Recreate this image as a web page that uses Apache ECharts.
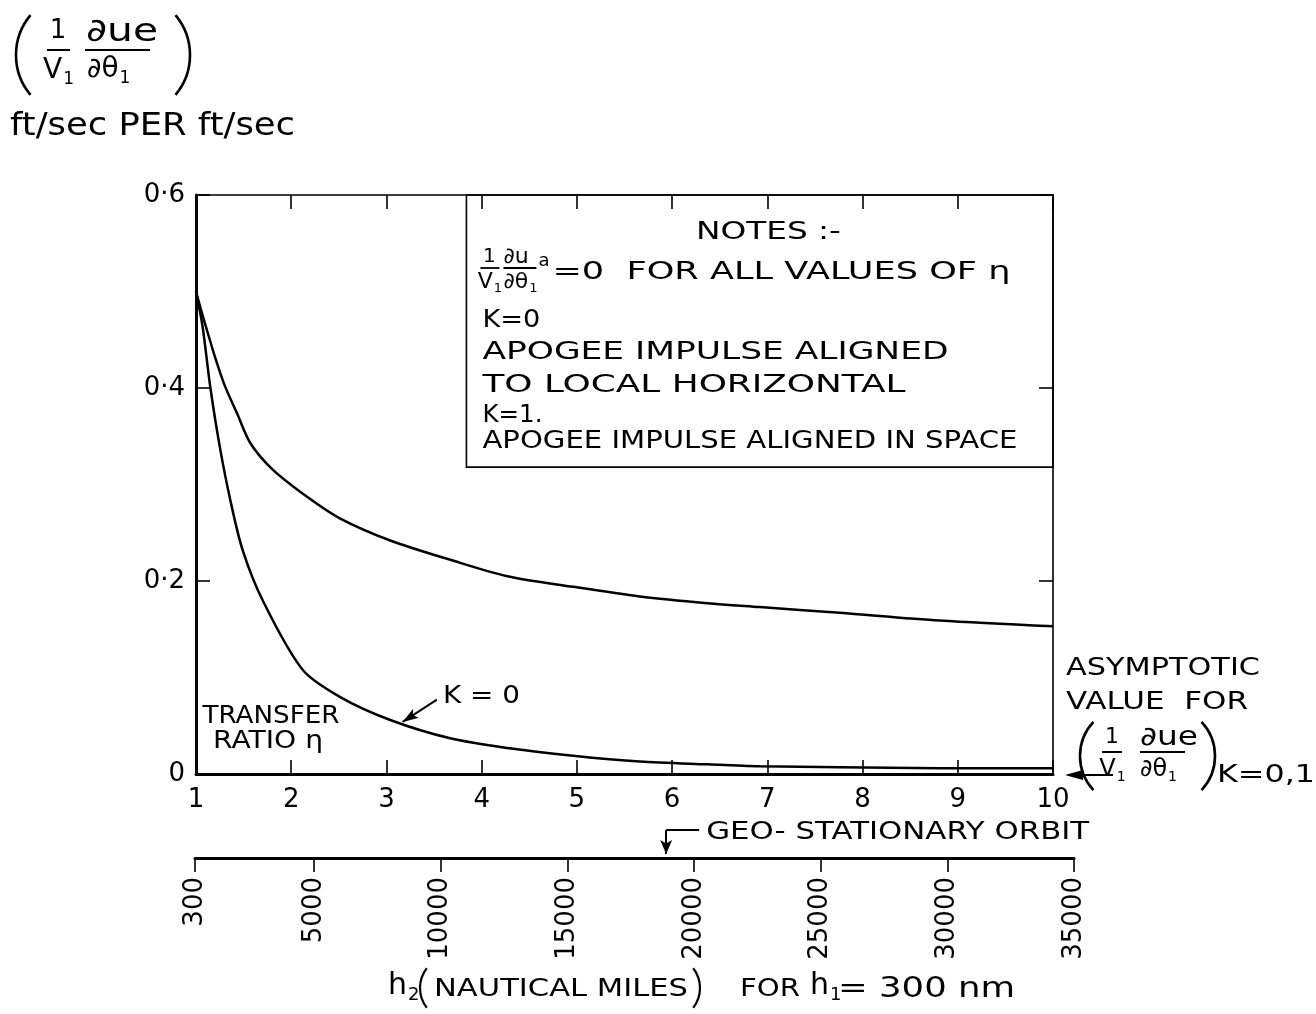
<!DOCTYPE html>
<html>
<head>
<meta charset="utf-8">
<title>Apogee velocity sensitivity vs transfer ratio</title>
<script src="https://cdn.jsdelivr.net/npm/echarts@6.0.0/dist/echarts.min.js"></script>
<style>
  html, body { margin: 0; padding: 0; background: #fff; }
  #chart { width: 1316px; height: 1014px; }
</style>
</head>
<body>
<div id="chart"></div>
<script>
// Sensitivity (1/V1)(du_e/dtheta_1) against transfer ratio n, for the two
// apogee impulse alignments (k = 1 upper curve, k = 0 lower curve).
const ratioK1 = [1.00, 1.05, 1.10, 1.20, 1.30, 1.43, 1.57, 1.80, 2.17, 2.51, 3.04, 3.67, 4.27, 4.96, 5.66, 6.37, 6.92, 7.76, 8.81, 10.0];
const sensK1  = [0.500, 0.482, 0.465, 0.432, 0.403, 0.374, 0.343, 0.316, 0.287, 0.265, 0.242, 0.222, 0.205, 0.194, 0.184, 0.177, 0.173, 0.167, 0.159, 0.153];
const ratioK0 = [1.00, 1.07, 1.15, 1.25, 1.36, 1.49, 1.70, 2.12, 2.51, 3.04, 3.67, 4.27, 4.96, 5.66, 6.37, 6.92, 7.76, 8.81, 10.0];
const sensK0  = [0.500, 0.463, 0.401, 0.339, 0.284, 0.232, 0.180, 0.108, 0.080, 0.056, 0.037, 0.027, 0.019, 0.013, 0.010, 0.008, 0.007, 0.006, 0.006];

// Axis ranges and tick values
const ratioRange = [1, 10];
const sensTicks = [0, 0.2, 0.4, 0.6];
const altitudeTicks = [300, 5000, 10000, 15000, 20000, 25000, 30000, 35000];
const altitudeRange = [300, 35000];

// Annotation anchors (data coordinates)
const geoStationaryAlt = 18900;
const k0Pointer = [[3.53, 0.077], [3.17, 0.054]];
const notesBox = [[3.84, 0.6], [10, 0.318]];

const FONT = '"DejaVu Sans", "Liberation Sans", sans-serif';
const INK = '#000';

const pairs = (xs, ys) => xs.map((x, i) => [x, ys[i]]);

const option = {
  animation: false,
  backgroundColor: '#fff',
  grid: [
    { left: 196, top: 195, width: 857, height: 579 },
    { left: 195, top: 818, width: 879, height: 40 }
  ],
  xAxis: [
    {
      gridIndex: 0, type: 'value', position: 'bottom',
      min: ratioRange[0], max: ratioRange[1], interval: 1,
      axisLine: { onZero: false, lineStyle: { color: INK, width: 3 } },
      axisTick: { inside: true, length: 14, lineStyle: { color: INK, width: 1.6 } },
      axisLabel: { color: INK, fontFamily: FONT, fontSize: 26, margin: 13 },
      splitLine: { show: false }
    },
    {
      gridIndex: 0, type: 'value', position: 'top',
      min: ratioRange[0], max: ratioRange[1], interval: 1,
      axisLine: { onZero: false, lineStyle: { color: INK, width: 1.6 } },
      axisTick: { inside: true, length: 14, lineStyle: { color: INK, width: 1.6 } },
      axisLabel: { show: false },
      splitLine: { show: false }
    },
    {
      gridIndex: 1, type: 'value', position: 'bottom',
      min: altitudeRange[0], max: altitudeRange[1],
      axisLine: { onZero: false, lineStyle: { color: INK, width: 3 } },
      axisTick: { show: true, inside: false, length: 14, customValues: altitudeTicks, lineStyle: { color: INK, width: 1.6 } },
      axisLabel: {
        customValues: altitudeTicks, rotate: 90, color: INK, fontFamily: FONT, fontSize: 26, margin: 19,
        formatter: v => String(v)
      },
      splitLine: { show: false }
    }
  ],
  yAxis: [
    {
      gridIndex: 0, type: 'value', position: 'left',
      min: sensTicks[0], max: sensTicks[sensTicks.length - 1], interval: 0.2,
      axisLine: { show: true, onZero: false, lineStyle: { color: INK, width: 3 } },
      axisTick: { show: true, inside: true, length: 14, lineStyle: { color: INK, width: 1.6 } },
      axisLabel: {
        color: INK, fontFamily: FONT, fontSize: 26, margin: 11,
        formatter: v => (v === 0 ? '0' : '0\u00B7' + Math.round(v * 10))
      },
      splitLine: { show: false }
    },
    {
      gridIndex: 0, type: 'value', position: 'right',
      min: sensTicks[0], max: sensTicks[sensTicks.length - 1], interval: 0.2,
      axisLine: { show: true, onZero: false, lineStyle: { color: INK, width: 1.6 } },
      axisTick: { show: true, inside: true, length: 14, lineStyle: { color: INK, width: 1.6 } },
      axisLabel: { show: false },
      splitLine: { show: false }
    },
    { gridIndex: 1, type: 'value', min: 0, max: 1, show: false }
  ],
  series: [
    {
      name: 'K=1', type: 'line', xAxisIndex: 0, yAxisIndex: 0,
      data: pairs(ratioK1, sensK1),
      symbol: 'none', smooth: 0.3,
      lineStyle: { color: INK, width: 2.5 },
      markArea: {
        silent: true,
        itemStyle: { color: 'rgba(0,0,0,0)', borderColor: INK, borderWidth: 1.6 },
        data: [[{ coord: notesBox[0] }, { coord: notesBox[1] }]]
      }
    },
    {
      name: 'K=0', type: 'line', xAxisIndex: 0, yAxisIndex: 0,
      data: pairs(ratioK0, sensK0),
      symbol: 'none', smooth: 0.3,
      lineStyle: { color: INK, width: 2.5 },
      markLine: {
        silent: true, animation: false,
        symbol: ['none', 'arrow'], symbolSize: [8, 16],
        lineStyle: { color: INK, width: 2, type: 'solid' },
        label: { show: false },
        data: [[{ coord: k0Pointer[0] }, { coord: k0Pointer[1] }]]
      }
    },
    {
      name: 'geo', type: 'line', xAxisIndex: 2, yAxisIndex: 2,
      data: [[geoStationaryAlt, 0]], symbol: 'none',
      lineStyle: { width: 0 },
      markLine: {
        silent: true, animation: false,
        lineStyle: { color: INK, width: 2, type: 'solid' },
        label: { show: false },
        symbolSize: [9, 14],
        data: [
          [{ coord: [20200, 0.7], symbol: 'none' }, { coord: [geoStationaryAlt, 0.7], symbol: 'none' }],
          [{ coord: [geoStationaryAlt, 0.7], symbol: 'none' }, { coord: [geoStationaryAlt, 0.1], symbol: 'arrow' }]
        ]
      }
    }
  ]
};

const chart = echarts.init(document.getElementById('chart'), null, { renderer: 'canvas' });
chart.setOption(option);

// ---------- text and symbol annotations ----------
const ctx = document.createElement('canvas').getContext('2d');
function measure(text, size) {
  ctx.font = size + 'px "DejaVu Sans"';
  return ctx.measureText(text).width;
}
function txt(x, y, text, size, align) {
  return {
    type: 'text', x: x, y: y, silent: true,
    style: { text: text, fontSize: size, fontFamily: FONT, fill: INK, align: align || 'left', verticalAlign: 'middle' }
  };
}
// text stretched horizontally to span a given width
function fitText(x, y, text, size, width, align) {
  const el = txt(x, y, text, size, align);
  el.scaleX = width / measure(text, size);
  return el;
}
// letter with a lowered index, e.g. V with subscript 1
function withSub(x, y, main, sub, size, align) {
  const wm = measure(main, size);
  const ss = Math.round(size * 0.6);
  const ws = measure(sub, ss);
  let left = x;
  if (align === 'center') left = x - (wm + ws) / 2;
  return [
    txt(left, y, main, size, 'left'),
    txt(left + wm + 1, y + size * 0.32, sub, ss, 'left')
  ];
}
function hline(x1, x2, y, w) {
  return { type: 'line', silent: true, shape: { x1: x1, y1: y, x2: x2, y2: y }, style: { stroke: INK, lineWidth: w || 2 } };
}
function paren(cx, cy, r, halfDeg, side, w) {
  const h = halfDeg * Math.PI / 180;
  const mid = side === 'left' ? Math.PI : 0;
  return {
    type: 'arc', silent: true,
    shape: { cx: cx, cy: cy, r: r, startAngle: mid - h, endAngle: mid + h, clockwise: true },
    style: { stroke: INK, lineWidth: w || 2.6, fill: null }
  };
}

function buildAnnotations() {
  const p0 = pt => chart.convertToPixel({ xAxisIndex: 0, yAxisIndex: 0 }, pt);
  const p1 = pt => chart.convertToPixel({ xAxisIndex: 2, yAxisIndex: 2 }, pt);
  const g = [];

  // y-axis quantity: (1/V1  du_e/dtheta_1)
  g.push(paren(78, 55, 62, 40, 'left'));
  g.push(txt(58, 31, '1', 26, 'center'));
  g.push(hline(47, 70, 50, 2));
  g.push(...withSub(58, 71, 'V', '1', 28, 'center'));
  g.push(fitText(86, 33, '\u2202ue', 32, 72));
  g.push(hline(85, 150, 50, 2));
  g.push(...withSub(87, 70, '\u2202\u03B8', '1', 28));
  g.push(paren(128, 55, 62, 40, 'right'));
  g.push(fitText(10, 127, 'ft/sec PER ft/sec', 32, 285));

  // notes panel
  const b = p0(notesBox[0]);
  const bx = b[0], by = b[1];
  g.push(fitText(bx + 302, by + 38, 'NOTES :-', 24, 145, 'center'));
  g.push(txt(bx + 23, by + 62, '1', 20, 'center'));
  g.push(hline(bx + 14, bx + 33, by + 73, 1.8));
  g.push(...withSub(bx + 23, by + 87, 'V', '1', 22, 'center'));
  g.push(txt(bx + 37, by + 62, '\u2202u', 22));
  g.push(txt(bx + 72, by + 66, 'a', 18));
  g.push(hline(bx + 37, bx + 70, by + 73, 1.8));
  g.push(...withSub(bx + 37, by + 87, '\u2202\u03B8', '1', 22));
  g.push(fitText(bx + 86, by + 77, '=0  FOR ALL VALUES OF \u03B7', 25, 458));
  g.push(fitText(bx + 16, by + 125, 'K=0', 25, 58));
  g.push(fitText(bx + 16, by + 157, 'APOGEE IMPULSE ALIGNED', 25, 466));
  g.push(fitText(bx + 16, by + 190, 'TO LOCAL HORIZONTAL', 25, 423));
  g.push(fitText(bx + 16, by + 220, 'K=1.', 25, 60));
  g.push(fitText(bx + 16, by + 246, 'APOGEE IMPULSE ALIGNED IN SPACE', 25, 535));

  // curve labels
  const o = p0([ratioRange[0], 0]);
  g.push(fitText(o[0] + 75, o[1] - 58, 'TRANSFER', 25, 137, 'center'));
  g.push(fitText(o[0] + 72, o[1] - 33, 'RATIO \u03B7', 25, 110, 'center'));
  const k = p0(k0Pointer[0]);
  g.push(fitText(k[0] + 6, k[1] - 3, 'K = 0', 25, 77));

  // asymptotic value note at the right
  const a = p0([ratioRange[1], 0]);
  g.push(fitText(a[0] + 13, a[1] - 106, 'ASYMPTOTIC', 25, 194));
  g.push(fitText(a[0] + 13, a[1] - 72, 'VALUE  FOR', 25, 182));
  g.push(paren(a[0] + 77, a[1] - 18, 50, 43, 'left'));
  g.push(txt(a[0] + 59, a[1] - 37, '1', 22, 'center'));
  g.push(hline(a[0] + 49, a[0] + 69, a[1] - 22, 2));
  g.push(...withSub(a[0] + 59, a[1] - 4, 'V', '1', 24, 'center'));
  g.push(fitText(a[0] + 87, a[1] - 36, '\u2202ue', 26, 58));
  g.push(hline(a[0] + 87, a[0] + 132, a[1] - 22, 2));
  g.push(...withSub(a[0] + 87, a[1] - 4, '\u2202\u03B8', '1', 24));
  g.push(paren(a[0] + 112, a[1] - 18, 50, 43, 'right'));
  g.push(fitText(a[0] + 164, a[1] + 2, 'K=0,1', 24, 98));
  g.push({ type: 'line', silent: true, shape: { x1: a[0] + 26, y1: a[1] + 1, x2: a[0] + 60, y2: a[1] + 1 }, style: { stroke: INK, lineWidth: 2.2 } });
  g.push({ type: 'polygon', silent: true, shape: { points: [[a[0] + 12, a[1] + 1], [a[0] + 30, a[1] - 4], [a[0] + 30, a[1] + 6]] }, style: { fill: INK } });

  // geostationary orbit marker on the altitude scale
  const geo = p1([geoStationaryAlt, 0.7]);
  g.push(fitText(geo[0] + 40, geo[1] + 2, 'GEO- STATIONARY ORBIT', 25, 383));

  // altitude scale title: h2 (NAUTICAL MILES) FOR h1 = 300 nm
  g.push(...withSub(388, 986, 'h', '2', 30));
  g.push(paren(452, 988, 32, 38, 'left', 2.2));
  g.push(fitText(434, 990, 'NAUTICAL MILES', 24, 254));
  g.push(paren(668, 988, 32, 38, 'right', 2.2));
  g.push(fitText(740, 990, 'FOR', 24, 60));
  g.push(...withSub(810, 986, 'h', '1', 30));
  g.push(fitText(838, 990, '= 300 nm', 28, 177));

  chart.setOption({ graphic: { elements: g } });
}
buildAnnotations();
</script>
</body>
</html>
